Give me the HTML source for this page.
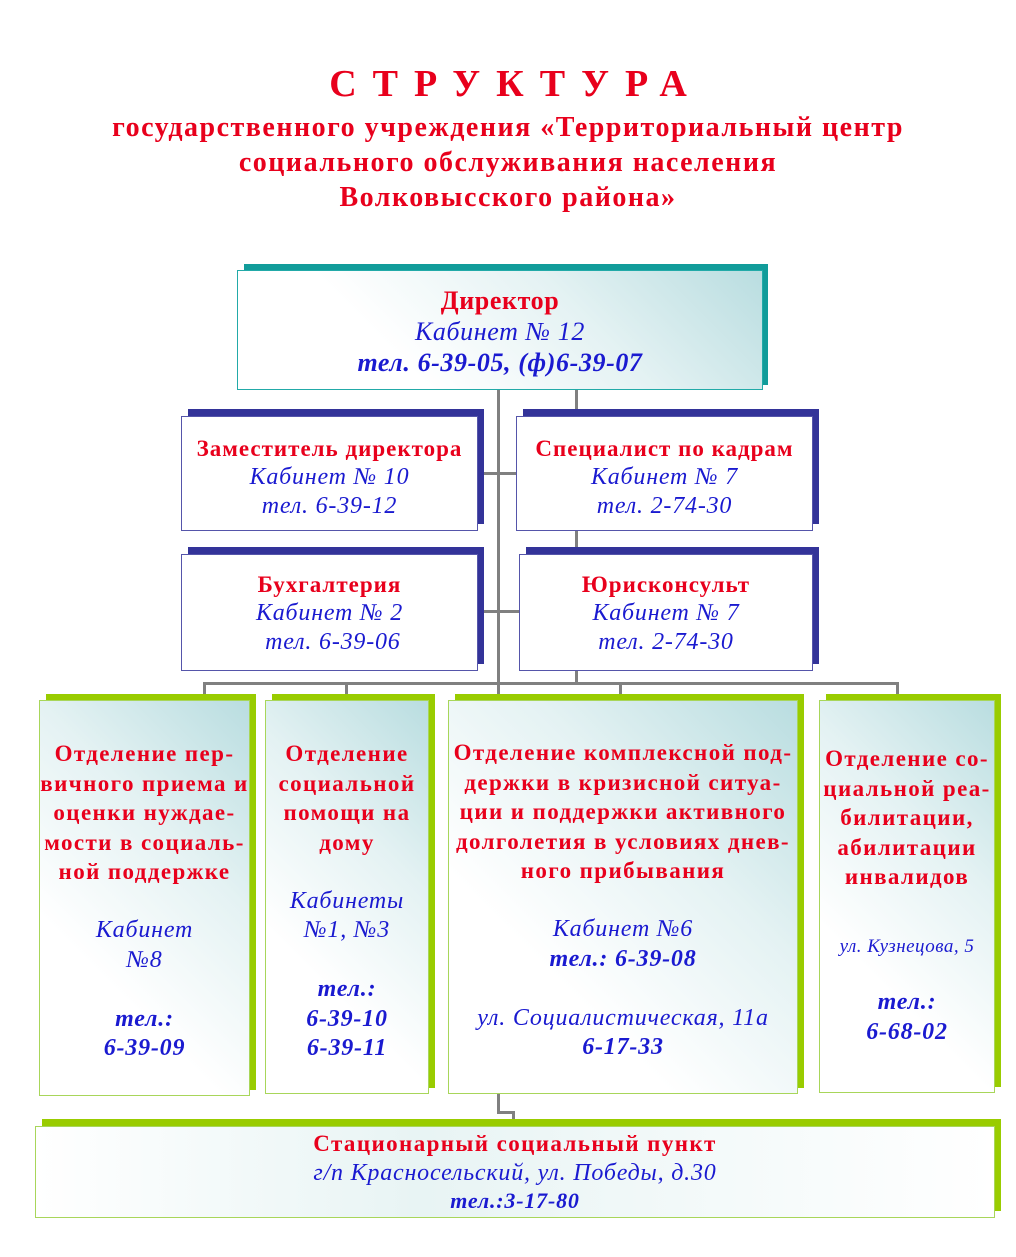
<!DOCTYPE html>
<html><head><meta charset="utf-8"><style>
body{margin:0;background:#fff;}
#c{position:relative;width:1016px;height:1257px;overflow:hidden;font-family:"Liberation Serif","DejaVu Serif",serif;}
.t{position:absolute;left:0;width:1016px;text-align:center;color:#e8001c;font-weight:bold;white-space:nowrap;}
.box{position:absolute;box-sizing:border-box;text-align:center;white-space:nowrap;background:linear-gradient(225deg,#b9dde0 0%,#e4f2f3 35%,#ffffff 70%);}
.sh{position:absolute;}
.r{color:#e8001c;font-weight:bold;}
.b{color:#1a1ad0;font-style:italic;}
.bb{color:#1a1ad0;font-style:italic;font-weight:bold;}
.ln{position:absolute;background:#808080;}
.bot{line-height:29.5px;font-size:23px;padding-top:38px;}
.bot .r{letter-spacing:1.4px;}
.bot .b,.bot .bb{font-size:24px;letter-spacing:0.8px;}
.mid{font-size:23px;line-height:29px;padding-top:17px;background:#fff;}
.mid .r{letter-spacing:1px;}
.mid .b{font-size:24px;letter-spacing:0.8px;}
</style></head><body><div id="c">
<div class="t" style="top:62px;font-size:38px;letter-spacing:16px;padding-left:16px;box-sizing:border-box;">СТРУКТУРА</div>
<div class="t" style="top:110px;font-size:28px;line-height:35px;letter-spacing:1.5px;">государственного учреждения «Территориальный центр<br>социального обслуживания населения<br>Волковысского района»</div>

<div class="ln" style="left:497px;top:389px;width:3px;height:311px;"></div>
<div class="ln" style="left:575px;top:389px;width:3px;height:22px;"></div>
<div class="ln" style="left:575px;top:529px;width:3px;height:20px;"></div>
<div class="ln" style="left:575px;top:670px;width:3px;height:14px;"></div>
<div class="ln" style="left:477px;top:472px;width:40px;height:3px;"></div>
<div class="ln" style="left:477px;top:610px;width:43px;height:3px;"></div>
<div class="ln" style="left:203px;top:682px;width:696px;height:3px;"></div>
<div class="ln" style="left:203px;top:682px;width:3px;height:15px;"></div>
<div class="ln" style="left:345px;top:682px;width:3px;height:15px;"></div>
<div class="ln" style="left:619px;top:682px;width:3px;height:15px;"></div>
<div class="ln" style="left:896px;top:682px;width:3px;height:15px;"></div>
<div class="ln" style="left:497px;top:1092px;width:3px;height:22px;"></div>
<div class="ln" style="left:497px;top:1111px;width:18px;height:3px;"></div>
<div class="ln" style="left:512px;top:1111px;width:3px;height:10px;"></div>

<div class="sh" style="left:244px;top:264px;width:524px;height:121px;background:#119c9a;"></div>
<div class="box" style="left:237px;top:270px;width:526px;height:120px;border:1.5px solid #22aaa8;font-size:26px;line-height:31px;padding-top:14px;letter-spacing:0.6px;">
<div class="r">Директор</div><div class="b">Кабинет № 12</div><div class="bb">тел. 6-39-05, (ф)6-39-07</div></div>

<div class="sh" style="left:188px;top:409px;width:296px;height:115px;background:#333399;"></div>
<div class="box mid" style="left:181px;top:416px;width:297px;height:115px;border:1.5px solid #5555aa;"><div class="r">Заместитель директора</div><div class="b">Кабинет № 10</div><div class="b">тел. 6-39-12</div></div>
<div class="sh" style="left:523px;top:409px;width:296px;height:115px;background:#333399;"></div>
<div class="box mid" style="left:516px;top:416px;width:297px;height:115px;border:1.5px solid #5555aa;"><div class="r">Специалист по кадрам</div><div class="b">Кабинет № 7</div><div class="b">тел. 2-74-30</div></div>
<div class="sh" style="left:188px;top:547px;width:296px;height:117px;background:#333399;"></div>
<div class="box mid" style="left:181px;top:554px;width:297px;height:117px;border:1.5px solid #5555aa;padding-top:15px;"><div class="r">Бухгалтерия</div><div class="b">Кабинет № 2</div><div class="b">&nbsp;тел. 6-39-06</div></div>
<div class="sh" style="left:526px;top:547px;width:293px;height:117px;background:#333399;"></div>
<div class="box mid" style="left:519px;top:554px;width:294px;height:117px;border:1.5px solid #5555aa;padding-top:15px;"><div class="r">Юрисконсульт</div><div class="b">Кабинет № 7</div><div class="b">тел. 2-74-30</div></div>

<div class="sh" style="left:46px;top:694px;width:210px;height:396px;background:#99cc00;"></div>
<div class="box bot" style="left:39px;top:700px;width:211px;height:396px;border:1.5px solid #a8d65a;"><div class="r">Отделение пер-<br>вичного приема и<br>оценки нуждае-<br>мости в социаль-<br>ной поддержке</div><br><div class="b">Кабинет<br>№8</div><br><div class="bb">тел.:<br>6-39-09</div></div>

<div class="sh" style="left:272px;top:694px;width:163px;height:394px;background:#99cc00;"></div>
<div class="box bot" style="left:265px;top:700px;width:164px;height:394px;border:1.5px solid #a8d65a;"><div class="r">Отделение<br>социальной<br>помощи на<br>дому</div><br><div class="b">Кабинеты<br>№1, №3</div><br><div class="bb">тел.:<br>6-39-10<br>6-39-11</div></div>

<div class="sh" style="left:455px;top:694px;width:349px;height:394px;background:#99cc00;"></div>
<div class="box bot" style="left:448px;top:700px;width:350px;height:394px;border:1.5px solid #a8d65a;padding-top:37px;"><div class="r">Отделение комплексной под-<br>держки в кризисной ситуа-<br>ции и поддержки активного<br>долголетия в условиях днев-<br>ного прибывания</div><br><div class="b">Кабинет №6</div><div class="bb">тел.: 6-39-08</div><br><div class="b">ул. Социалистическая, 11а</div><div class="bb">6-17-33</div></div>

<div class="sh" style="left:826px;top:694px;width:175px;height:393px;background:#99cc00;"></div>
<div class="box bot" style="left:819px;top:700px;width:176px;height:393px;border:1.5px solid #a8d65a;padding-top:43px;"><div class="r">Отделение со-<br>циальной реа-<br>билитации,<br>абилитации<br>инвалидов</div><div style="height:40px"></div><div class="b" style="font-size:19px;letter-spacing:0.5px;">ул. Кузнецова, 5</div><div style="height:27px"></div><div class="bb">тел.:<br>6-68-02</div></div>

<div class="sh" style="left:42px;top:1119px;width:959px;height:92px;background:#99cc00;"></div>
<div class="box" style="left:35px;top:1126px;width:960px;height:92px;border:1.5px solid #a8d65a;font-size:23px;line-height:28.5px;padding-top:3px;background:linear-gradient(90deg,#ffffff 0%,#e8f4f4 40%,#ffffff 100%);"><div class="r" style="letter-spacing:1.4px;">Стационарный социальный пункт</div><div class="b" style="font-size:24px;letter-spacing:0.8px;">г/п Красносельский, ул. Победы, д.30</div><div class="bb" style="font-size:22px;letter-spacing:0.8px;">тел.:3-17-80</div></div>
</div></body></html>
